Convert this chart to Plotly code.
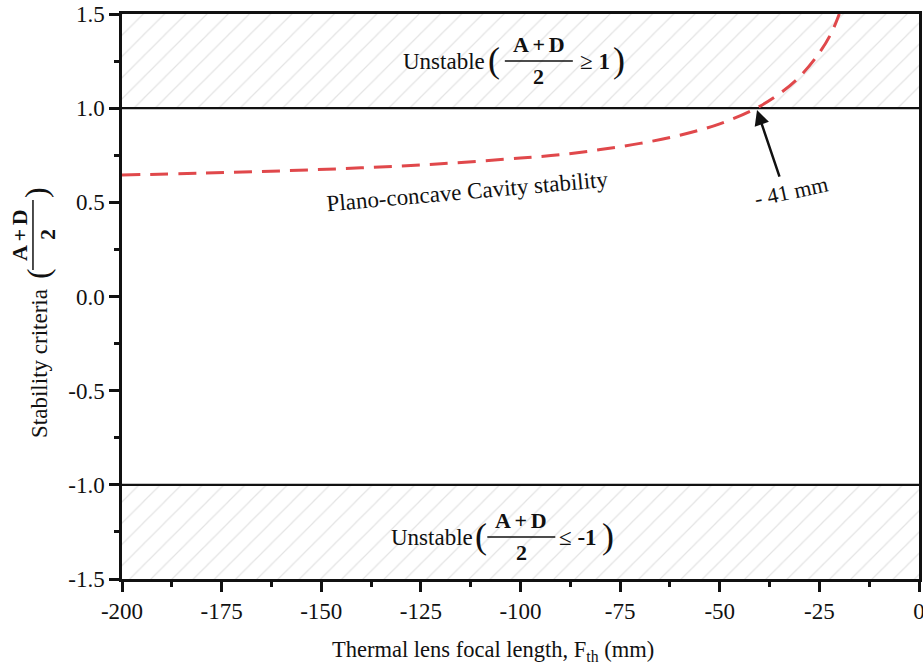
import plotly.graph_objects as go

# 数据：平凹腔稳定性曲线
focal_length = [-200, -180, -160, -140, -120, -100, -90, -80, -70, -60, -50, -41, -35, -30, -25, -22, -20]
stability = [0.645, 0.655, 0.667, 0.683, 0.705, 0.735, 0.753, 0.780, 0.813, 0.856, 0.917, 0.998, 1.077, 1.166, 1.294, 1.399, 1.5]

x_range = [-200, 0]
y_range = [-1.5, 1.5]
upper_limit = 1.0
lower_limit = -1.0
marker_focal = -41

x_ticks = [-200, -175, -150, -125, -100, -75, -50, -25, 0]
x_ticktext = ["-200", "-175", "-150", "-125", "-100", "-75", "-50", "-25", "0"]
y_ticks = [-1.5, -1.0, -0.5, 0.0, 0.5, 1.0, 1.5]
y_ticktext = ["-1.5", "-1.0", "-0.5", "0.0", "0.5", "1.0", "1.5"]

FONT = "Liberation Serif, Times New Roman, serif"
BLACK = "#111111"
NUM = "<b>A&#8202;&#8202;+&#8202;&#8202;D</b>"

fig = go.Figure()

# 不稳定区域（斜线填充）
for lo, hi in [(upper_limit, y_range[1]), (y_range[0], lower_limit)]:
    fig.add_trace(go.Scatter(
        x=[x_range[0], x_range[1], x_range[1], x_range[0]],
        y=[lo, lo, hi, hi],
        fill="toself",
        mode="none",
        fillcolor="rgba(0,0,0,0)",
        fillpattern=dict(shape="/", fgcolor="#c8c8c8", bgcolor="white", size=15, solidity=0.08),
        hoverinfo="skip",
        showlegend=False,
    ))

# 稳定性边界线
for yv in [upper_limit, lower_limit]:
    fig.add_trace(go.Scatter(
        x=x_range, y=[yv, yv], mode="lines",
        line=dict(color=BLACK, width=2.2),
        hoverinfo="skip", showlegend=False,
    ))

fig.add_trace(go.Scatter(
    x=focal_length,
    y=stability,
    mode="lines",
    line=dict(color="#e0484b", width=3, dash="18px,10px", shape="spline"),
    showlegend=False,
))


def f(size):
    return dict(family=FONT, size=size, color=BLACK)


def frac_label(x, y, prefix, relation, rhs, left, right, half=34):
    """带分数的标注：prefix ( (A+D)/2 relation rhs )"""
    common = dict(x=x, y=y, xref="x", yref="y", showarrow=False)
    fig.add_annotation(text=prefix, xanchor="right", xshift=left[0], font=f(23), **common)
    fig.add_annotation(text="(", xanchor="center", xshift=left[1], yshift=1, font=f(36), **common)
    fig.add_annotation(text=NUM, xanchor="center", yshift=17, font=f(22), **common)
    fig.add_annotation(text="<b>2</b>", xanchor="center", yshift=-15, font=f(22), **common)
    fig.add_annotation(text=f"{relation}&nbsp;<b>{rhs}</b>", xanchor="left", xshift=right[0], font=f(23), **common)
    fig.add_annotation(text=")", xanchor="center", xshift=right[1], yshift=1, font=f(36), **common)
    fig.add_shape(type="line", xref="x", yref="y", xsizemode="pixel", xanchor=x,
                  x0=-half, x1=half, y0=y, y1=y, line=dict(color=BLACK, width=1.5))


frac_label(-95.4, 1.25, "Unstable", "≥", "1", left=(-52, -45), right=(39, 80), half=34)
frac_label(-99.8, -1.277, "Unstable", "≤", "-1", left=(-46, -40), right=(36, 87), half=34)

# 曲线说明文字
fig.add_annotation(x=-113.2, y=0.555, text="Plano-concave Cavity stability", showarrow=False,
                   textangle=-5, font=f(23))
fig.add_annotation(x=-32.1, y=0.555, text="- 41 mm", showarrow=False,
                   textangle=-12, font=f(22))
fig.add_annotation(x=marker_focal + 0.35, y=0.99, text="", showarrow=True, ax=23, ay=68,
                   arrowhead=2, arrowsize=1.2, arrowwidth=2.5, arrowcolor=BLACK)

# X 轴标题（略偏左，与原图一致）
fig.add_annotation(text="Thermal lens focal length, F<sub>th</sub> (mm)", xref="paper", yref="paper",
                   x=0.5, y=0, xshift=-28, yshift=-56, xanchor="center", yanchor="top",
                   showarrow=False, font=f(22.5))

# Y 轴标题（旋转，带分数）
ycommon = dict(xref="paper", yref="y", x=0, showarrow=False, textangle=-90, xanchor="center", yanchor="middle")
fig.add_annotation(text="Stability criteria", y=-0.358, xshift=-82, font=f(23), **ycommon)
fig.add_annotation(text="(", y=0.12, xshift=-84, font=f(32), **ycommon)
fig.add_annotation(text=NUM, y=0.3265, xshift=-103, font=f(22), **ycommon)
fig.add_annotation(text="<b>2</b>", y=0.3265, xshift=-75, font=f(22), **ycommon)
fig.add_annotation(text=")", y=0.55, xshift=-86, font=f(32), **ycommon)
fig.add_shape(type="line", xref="paper", yref="y", x0=-0.1117, x1=-0.1117, y0=0.1407, y1=0.5124,
              line=dict(color=BLACK, width=1.5))

axis_common = dict(
    showline=True, linecolor=BLACK, linewidth=2.5, mirror=True,
    ticks="outside", ticklen=10, tickwidth=2.5, tickcolor=BLACK,
    showgrid=False, zeroline=False, automargin=False, ticklabeloverflow="allow",
    tickfont=f(23),
)

fig.update_xaxes(
    range=x_range, tickmode="array", tickvals=x_ticks, ticktext=x_ticktext,
    minor=dict(ticks="outside", ticklen=5, tickwidth=2.5, tickcolor=BLACK, tickmode="linear", tick0=0, dtick=12.5),
    **axis_common,
)
fig.update_yaxes(
    range=y_range, tickmode="array", tickvals=y_ticks, ticktext=y_ticktext,
    minor=dict(ticks="outside", ticklen=5, tickwidth=2.5, tickcolor=BLACK, tickmode="linear", tick0=0, dtick=0.25),
    **axis_common,
)

fig.update_layout(
    width=923, height=671,
    margin=dict(l=122, r=4, t=14, b=92),
    plot_bgcolor="white", paper_bgcolor="white",
    showlegend=False,
)

fig.write_html("out.html", config={"displayModeBar": False},
               post_script="document.body.style.margin='0px';")
